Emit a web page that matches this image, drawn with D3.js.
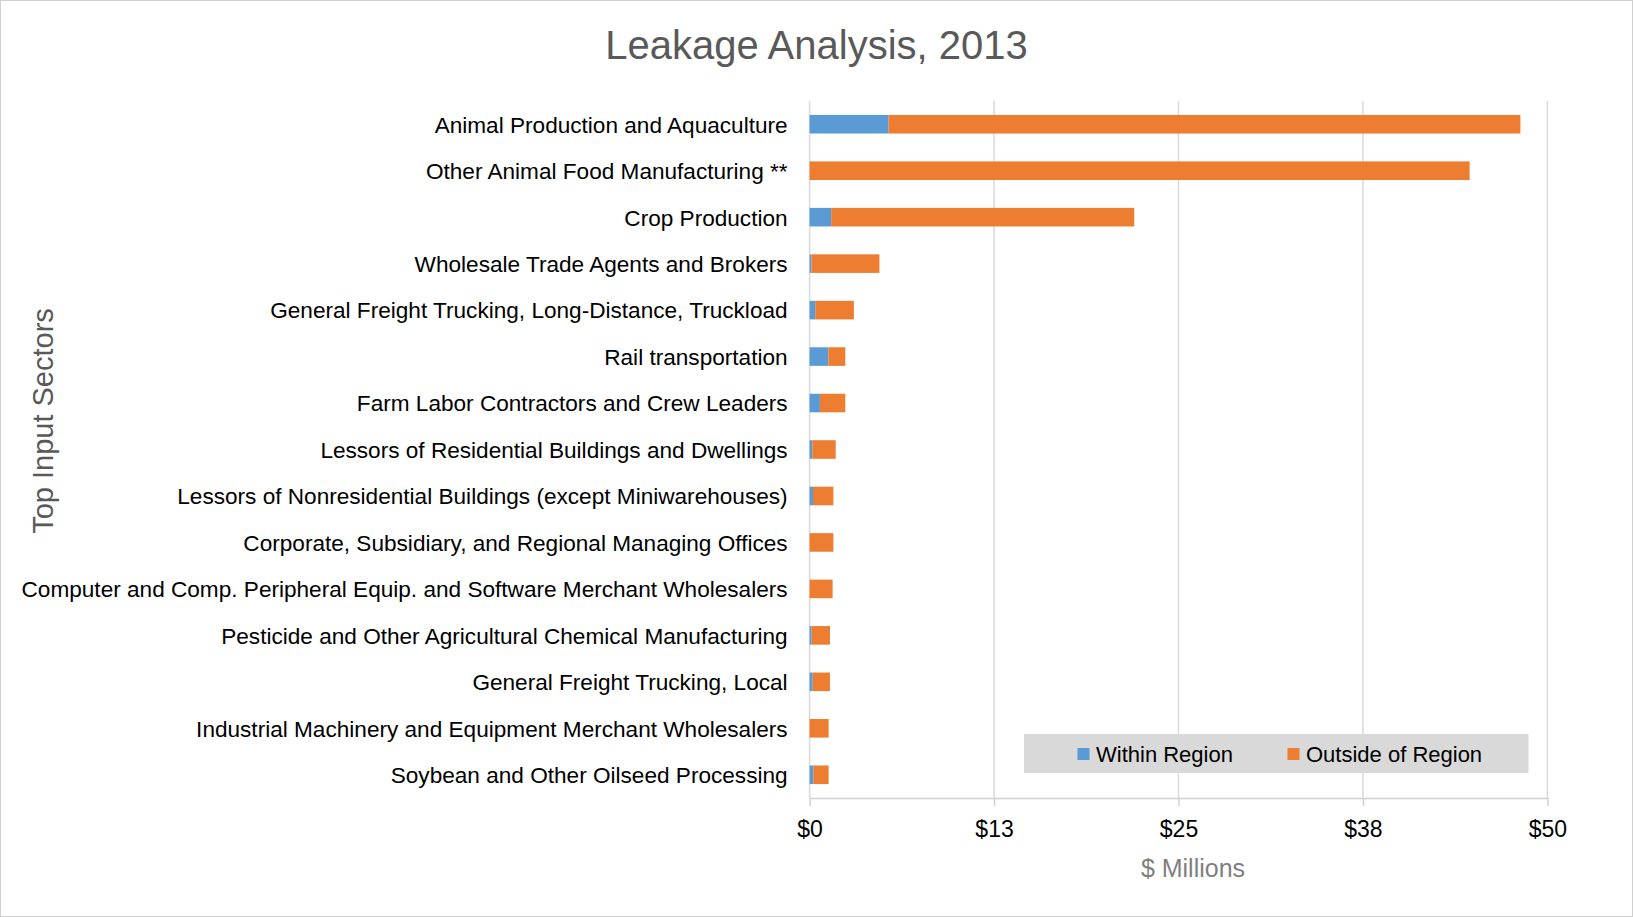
<!DOCTYPE html>
<html>
<head>
<meta charset="utf-8">
<script src="https://cdn.jsdelivr.net/npm/d3@7"></script>
<style>
  body { margin: 0; background: #fff; }
  svg { display: block; font-family: "Liberation Sans", Arial, sans-serif; }
</style>
</head>
<body>
<div id="chart"></div>
<script>
// sectors, top to bottom
var sectors = [
    "Animal Production and Aquaculture",
    "Other Animal Food Manufacturing **",
    "Crop Production",
    "Wholesale Trade Agents and Brokers",
    "General Freight Trucking, Long-Distance, Truckload",
    "Rail transportation",
    "Farm Labor Contractors and Crew Leaders",
    "Lessors of Residential Buildings and Dwellings",
    "Lessors of Nonresidential Buildings (except Miniwarehouses)",
    "Corporate, Subsidiary, and Regional Managing Offices",
    "Computer and Comp. Peripheral Equip. and Software Merchant Wholesalers",
    "Pesticide and Other Agricultural Chemical Manufacturing",
    "General Freight Trucking, Local",
    "Industrial Machinery and Equipment Merchant Wholesalers",
    "Soybean and Other Oilseed Processing"
];
// $ millions
var withinRegion = [5.35, 0, 1.46, 0.13, 0.38, 1.27, 0.70, 0.18, 0.23, 0, 0, 0.14, 0.21, 0, 0.25];
var outsideRegion = [42.82, 44.73, 20.54, 4.60, 2.62, 1.15, 1.72, 1.59, 1.38, 1.61, 1.56, 1.24, 1.17, 1.29, 1.04];
var xTicks = [0, 12.5, 25, 37.5, 50];
var seriesNames = ["Within Region", "Outside of Region"];

var W = 1633, H = 917;
var margin = { top: 101, right: 85.6, bottom: 119, left: 809.6 };
var colors = ["#5b9bd5", "#ed7d31"];

var svg = d3.select("#chart").append("svg")
    .attr("width", W)
    .attr("height", H);

svg.append("rect")
    .attr("x", 0.5).attr("y", 0.5)
    .attr("width", W - 1).attr("height", H - 1)
    .attr("fill", "#fff")
    .attr("stroke", "#d0d0d0");

var x = d3.scaleLinear().domain([0, 50]).range([margin.left, W - margin.right]);
var y = d3.scaleBand().domain(sectors)
    .range([margin.top, H - margin.bottom])
    .paddingInner(0.6).paddingOuter(0.3);

var rows = sectors.map(function (s, i) {
    return { sector: s, within: withinRegion[i], outside: outsideRegion[i] };
});
var stacked = d3.stack().keys(["within", "outside"])(rows);

// gridlines
svg.append("g").selectAll("line")
    .data(xTicks)
    .join("line")
    .attr("x1", function (d) { return x(d); })
    .attr("x2", function (d) { return x(d); })
    .attr("y1", margin.top)
    .attr("y2", H - margin.bottom)
    .attr("stroke", "#d9d9d9")
    .attr("stroke-width", 1.5);

// bars
svg.append("g").selectAll("g")
    .data(stacked)
    .join("g")
    .attr("fill", function (d, i) { return colors[i]; })
    .selectAll("rect")
    .data(function (d) { return d; })
    .join("rect")
    .attr("x", function (d) { return x(d[0]); })
    .attr("y", function (d) { return y(d.data.sector); })
    .attr("width", function (d) { return x(d[1]) - x(d[0]); })
    .attr("height", y.bandwidth());

// x axis
var xAxis = svg.append("g")
    .attr("transform", "translate(0," + (H - margin.bottom) + ")")
    .call(d3.axisBottom(x).tickValues(xTicks).tickSizeInner(8).tickSizeOuter(0)
        .tickFormat(function (d) { return "$" + Math.round(d); }));
xAxis.select(".domain").attr("stroke", "#d0d0d0").attr("stroke-width", 1.5);
xAxis.selectAll(".tick line").attr("stroke", "#d0d0d0").attr("stroke-width", 1.5);
xAxis.selectAll("text")
    .attr("y", 39).attr("dy", 0)
    .attr("fill", "#000")
    .style("font-size", "23px");

// y axis labels
var yAxis = svg.append("g")
    .attr("transform", "translate(" + margin.left + ",0)")
    .call(d3.axisLeft(y).tickSize(0).tickPadding(22));
yAxis.select(".domain").remove();
yAxis.selectAll("text")
    .attr("fill", "#000")
    .attr("dy", "0.37em")
    .style("font-size", "22.6px");

// title
svg.append("text")
    .attr("x", 816.5).attr("y", 59)
    .attr("text-anchor", "middle")
    .attr("fill", "#595959")
    .style("font-size", "40px")
    .text("Leakage Analysis, 2013");

// axis titles
svg.append("text")
    .attr("transform", "translate(53,421) rotate(-90)")
    .attr("text-anchor", "middle")
    .attr("fill", "#595959")
    .style("font-size", "29px")
    .text("Top Input Sectors");

svg.append("text")
    .attr("x", 1193).attr("y", 877)
    .attr("text-anchor", "middle")
    .attr("fill", "#7f7f7f")
    .style("font-size", "25px")
    .text("$ Millions");

// legend
var legend = svg.append("g");
legend.append("rect")
    .attr("x", 1024).attr("y", 734)
    .attr("width", 504.5).attr("height", 39)
    .attr("fill", "#d9d9d9");
var legendX = [1077.5, 1287.5];
seriesNames.forEach(function (name, i) {
    legend.append("rect")
        .attr("x", legendX[i]).attr("y", 748)
        .attr("width", 12).attr("height", 12)
        .attr("fill", colors[i]);
    legend.append("text")
        .attr("x", legendX[i] + 18.5).attr("y", 761.5)
        .attr("fill", "#000")
        .style("font-size", "22px")
        .text(name);
});
</script>
</body>
</html>
